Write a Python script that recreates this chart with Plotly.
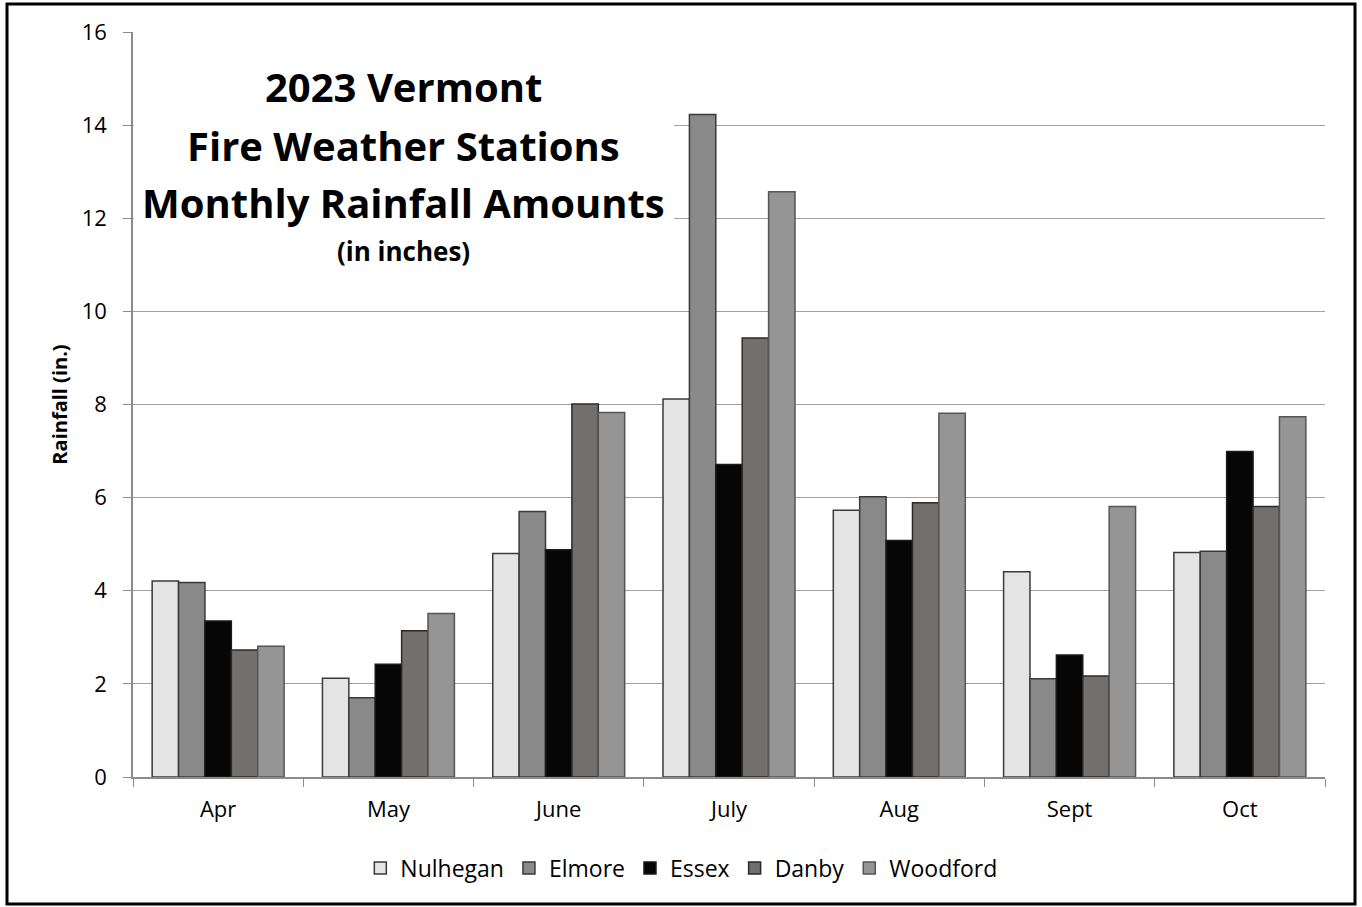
import plotly.graph_objects as go

months = ["Apr", "May", "June", "July", "Aug", "Sept", "Oct"]
stations = ["Nulhegan", "Elmore", "Essex", "Danby", "Woodford"]

nulhegan = [4.21, 2.12, 4.80, 8.12, 5.73, 4.41, 4.82]
elmore = [4.18, 1.70, 5.70, 14.23, 6.02, 2.11, 4.85]
essex = [3.35, 2.42, 4.88, 6.71, 5.08, 2.62, 6.99]
danby = [2.73, 3.14, 8.01, 9.43, 5.89, 2.17, 5.81]
woodford = [2.81, 3.51, 7.83, 12.57, 7.81, 5.81, 7.74]

series = [nulhegan, elmore, essex, danby, woodford]
fills = ["#e4e4e4", "#898989", "#060606", "#736f6d", "#959595"]
edges = ["#3a3a3a", "#3a3a3a", "#1a1a1a", "#2a2a2a", "#555555"]

FONT = "Open Sans"

fig = go.Figure()
for name, vals, fc, ec in zip(stations, series, fills, edges):
    fig.add_trace(go.Bar(
        x=months, y=vals, name=name,
        marker=dict(color=fc, line=dict(color=ec, width=1.5)),
    ))

# plot area: x 133..1325, y 32..777 in page pixels
W, H = 1362, 907
L, R, T, B = 133, 37, 32, 130
pw, ph = W - L - R, H - T - B


def px(x):
    return (x - L) / pw


def py(y):
    return (H - B - y) / ph


fig.update_layout(
    width=W, height=H,
    margin=dict(l=L, r=R, t=T, b=B),
    paper_bgcolor="white", plot_bgcolor="white",
    barmode="group", bargap=0.225, bargroupgap=0,
    font=dict(family=FONT, color="black"),
    showlegend=True,
    legend=dict(
        orientation="h", x=0.46, xanchor="center", y=py(868), yanchor="middle",
        font=dict(size=23, family=FONT), itemwidth=30, tracegroupgap=0,
    ),
    xaxis=dict(
        showline=True, linecolor="#8c8c8c", linewidth=1.5,
        ticks="outside", tickson="boundaries", ticklen=8, tickcolor="#8c8c8c",
        tickfont=dict(size=22, family=FONT), showgrid=False,
        ticklabelstandoff=12,
    ),
    yaxis=dict(
        range=[0, 16.001], dtick=2, tick0=0,
        showline=True, linecolor="#8c8c8c", linewidth=1.5,
        ticks="outside", ticklen=8, tickcolor="#8c8c8c",
        showgrid=True, gridcolor="#a0a0a0", gridwidth=1.2,
        zeroline=False,
        tickfont=dict(size=22, family=FONT),
        ticklabelstandoff=12,
        title=dict(text="<b>Rainfall (in.)</b>", font=dict(size=20, family=FONT), standoff=9),
    ),
)

# white backing for the title block, covering the gridlines behind it
fig.add_shape(
    type="rect", xref="paper", yref="paper",
    x0=px(134), x1=px(674), y0=py(278), y1=py(52),
    line=dict(width=0), fillcolor="white", layer="above",
)

title_lines = [
    ("2023 Vermont", 86, 40),
    ("Fire Weather Stations", 145, 40),
    ("Monthly Rainfall Amounts", 203, 40),
    ("(in inches)", 251, 26),
]
for txt, ypix, size in title_lines:
    fig.add_annotation(
        xref="paper", yref="paper", x=px(403), y=py(ypix),
        xanchor="center", yanchor="middle", showarrow=False,
        text=f"<b>{txt}</b>", font=dict(size=size, family=FONT, color="black"),
    )

# black frame around the whole chart
fig.add_shape(
    type="rect", xref="paper", yref="paper",
    x0=px(7), x1=px(1355), y0=py(904), y1=py(4),
    line=dict(color="black", width=3), fillcolor="rgba(0,0,0,0)", layer="above",
)

fig.write_html("out.html")
